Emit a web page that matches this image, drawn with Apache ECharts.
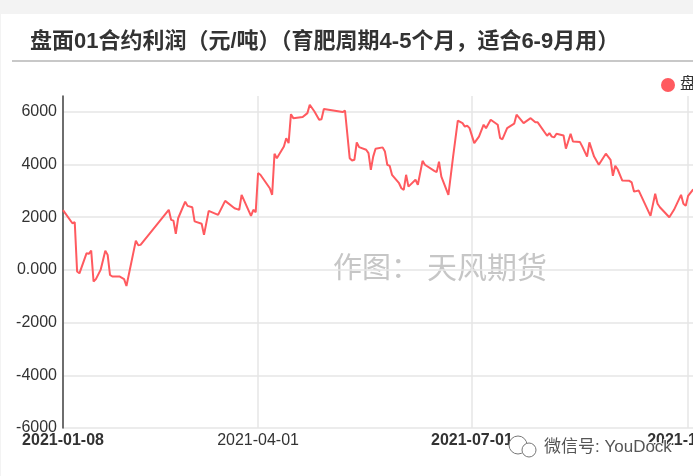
<!DOCTYPE html>
<html><head><meta charset="utf-8">
<script src="https://cdn.jsdelivr.net/npm/echarts@6/dist/echarts.min.js"></script>
<style>
html,body{margin:0;padding:0;width:693px;height:476px;overflow:hidden;background:#f3f3f3;}
#c{position:absolute;left:1px;top:14px;width:780px;height:462px;background:#fff;}
</style>
</head><body><div id="c"></div>
<script>
const seriesName = '盘面01合约利润';
const dates = [
 '2021-01-08','2021-01-12','2021-01-13','2021-01-14','2021-01-15','2021-01-18','2021-01-19','2021-01-20','2021-01-21','2021-01-22',
 '2021-01-24','2021-01-26','2021-01-27','2021-01-28','2021-01-29','2021-02-01','2021-02-03','2021-02-04','2021-02-08','2021-02-09',
 '2021-02-10','2021-02-22','2021-02-23','2021-02-24','2021-02-25','2021-02-26','2021-03-01','2021-03-02','2021-03-04','2021-03-05',
 '2021-03-08','2021-03-09','2021-03-11','2021-03-15','2021-03-18','2021-03-22','2021-03-24','2021-03-25','2021-03-29','2021-03-30',
 '2021-03-31','2021-04-01','2021-04-02','2021-04-06','2021-04-07','2021-04-08','2021-04-09','2021-04-12','2021-04-13','2021-04-14',
 '2021-04-15','2021-04-16','2021-04-20','2021-04-22','2021-04-23','2021-04-25','2021-04-27','2021-04-28','2021-04-29','2021-05-07',
 '2021-05-08','2021-05-10','2021-05-11','2021-05-12','2021-05-13','2021-05-14','2021-05-17','2021-05-18','2021-05-19','2021-05-20',
 '2021-05-21','2021-05-24','2021-05-25','2021-05-26','2021-05-27','2021-05-28','2021-05-31','2021-06-01','2021-06-02','2021-06-03',
 '2021-06-04','2021-06-07','2021-06-08','2021-06-10','2021-06-11','2021-06-15','2021-06-16','2021-06-17','2021-06-18','2021-06-21',
 '2021-06-23','2021-06-25','2021-06-27','2021-06-28','2021-06-29','2021-06-30','2021-07-02','2021-07-04','2021-07-06','2021-07-07',
 '2021-07-09','2021-07-12','2021-07-13','2021-07-14','2021-07-16','2021-07-19','2021-07-20','2021-07-23','2021-07-26','2021-07-28',
 '2021-07-29','2021-08-02','2021-08-03','2021-08-04','2021-08-05','2021-08-06','2021-08-09','2021-08-10','2021-08-12','2021-08-13',
 '2021-08-16','2021-08-17','2021-08-19','2021-08-20','2021-08-22','2021-08-24','2021-08-27','2021-08-29','2021-08-30','2021-08-31',
 '2021-09-01','2021-09-03','2021-09-06','2021-09-07','2021-09-08','2021-09-10','2021-09-15','2021-09-17','2021-09-18','2021-09-19',
 '2021-09-23','2021-09-25','2021-09-28','2021-09-29','2021-09-30','2021-10-01','2021-10-03','2021-10-06'
];
const values = [
 2270,1770,1810,-60,-130,630,610,730,-440,-350,
 0,730,570,-190,-250,-250,-350,-610,1110,940,
 950,2280,1900,1870,1370,1960,2590,2430,2380,1840,
 1750,1330,2240,2090,2620,2340,2280,2850,2050,2280,
 2190,3670,3610,3100,2850,4410,4240,4680,5000,4810,
 5910,5760,5800,5950,6270,6010,5700,5720,6110,5990,
 6050,4240,4150,4180,4840,4660,4560,4430,3800,4300,
 4600,4650,4490,3990,3950,3610,3290,3100,3040,3610,
 3160,3420,3230,4140,3990,3760,3710,4110,3540,2850,
 4300,5670,5570,5440,5470,5380,4810,5060,5510,5380,
 5700,5510,5000,4960,5380,5550,5890,5570,5760,5600,
 5600,5090,5190,5060,5030,5170,5100,4600,5170,4870,
 4850,4680,4300,4840,4300,3990,4410,4180,3570,3950,
 3820,3390,3380,3320,2970,3010,2050,2890,2510,2380,
 2000,2280,2850,2510,2430,2810,3040,3150
];
const axisStart = '2021-01-08', axisEnd = '2021-10-31';
const xLabelDates = ['2021-01-08','2021-04-01','2021-07-01','2021-10-01'];
const boldXLabels = ['2021-01-08','2021-07-01','2021-10-01'];
const yMin = -6000, yMax = 6600, yStep = 2000;

// calendar-day categories for the x axis
const days = [];
for (let t = Date.parse(axisStart + 'T00:00:00Z'); t <= Date.parse(axisEnd + 'T00:00:00Z'); t += 86400000) {
  days.push(new Date(t).toISOString().slice(0, 10));
}
const showDay = (i, v) => xLabelDates.indexOf(v) >= 0;

const FONT = "'Liberation Sans', 'Noto Sans CJK SC', sans-serif";
const lineColor = '#ff5a5f';
const chart = echarts.init(document.getElementById('c'));
const splitColors = [];
for (let v = yMin; v <= yMax; v += yStep) splitColors.push('#e6e6e6');
if ((yMax - yMin) % yStep !== 0) splitColors.push('rgba(0,0,0,0)');

chart.setOption({
  animation: false,
  textStyle: { fontFamily: FONT },
  grid: { left: 62, top: 82, bottom: 48, right: 22.4, containLabel: false },
  legend: {
    data: [seriesName], left: 655, top: 58, icon: 'circle',
    itemWidth: 14, itemHeight: 14, itemGap: 10,
    textStyle: { fontSize: 16, color: '#333', fontFamily: FONT }
  },
  xAxis: {
    type: 'category', data: days, boundaryGap: false,
    axisLine: { show: false },
    axisTick: { show: false, interval: showDay },
    splitLine: { show: true, interval: showDay, lineStyle: { color: '#e6e6e6', width: 1.5 } },
    axisLabel: {
      interval: showDay, margin: 5, fontSize: 16, color: '#333',
      formatter: function (s) {
        return boldXLabels.indexOf(s) >= 0 ? '{b|' + s + '}' : '{n|' + s + '}';
      },
      rich: {
        b: { fontSize: 16, fontWeight: 'bold', color: '#333', fontFamily: FONT },
        n: { fontSize: 16, fontWeight: 'normal', color: '#333', fontFamily: FONT }
      }
    }
  },
  yAxis: {
    type: 'value', min: yMin, max: yMax, interval: yStep,
    axisLine: { show: true, lineStyle: { color: '#444', width: 1.5 } },
    axisTick: { show: false },
    axisLabel: {
      fontSize: 16, color: '#333', margin: 6,
      formatter: function (v) { return v === 0 ? '0.000' : (v % yStep === 0 ? String(v) : ''); }
    },
    splitLine: { show: true, lineStyle: { color: splitColors, width: 1.5 } }
  },
  graphic: [
    { type: 'text', x: 29, y: 28, style: { text: '盘面01合约利润（元/吨）（育肥周期4-5个月，适合6-9月用）', font: 'bold 22px ' + FONT, fill: '#333', verticalAlign: 'middle' } },
    { type: 'line', shape: { x1: 11, y1: 47, x2: 780, y2: 47 }, style: { stroke: '#c8c8c8', lineWidth: 2 } },
    { type: 'text', x: 332, y: 256, z: -1, style: { text: '作图：', font: '29px ' + FONT, fill: '#c6c6c6', verticalAlign: 'middle' } },
    { type: 'text', x: 426, y: 256, z: -1, style: { text: '天风期货', font: '30px ' + FONT, fill: '#c6c6c6', verticalAlign: 'middle' } },
    { type: 'circle', shape: { cx: 517, cy: 431, r: 9 }, z: 100, style: { fill: '#fff', stroke: '#777', lineWidth: 1 } },
    { type: 'circle', shape: { cx: 528, cy: 436, r: 7 }, z: 100, style: { fill: '#fff', stroke: '#777', lineWidth: 1 } },
    { type: 'text', left: 542, top: 424, z: 100, style: { text: '微信号: YouDock', font: '17px ' + FONT, fill: '#555', stroke: '#fff', lineWidth: 2 } }
  ],
  series: [{
    name: seriesName, type: 'line', showSymbol: false, symbol: 'circle',
    data: dates.map((d, i) => [d, values[i]]),
    lineStyle: { color: lineColor, width: 2 },
    itemStyle: { color: lineColor }
  }]
});
</script>
</body></html>
